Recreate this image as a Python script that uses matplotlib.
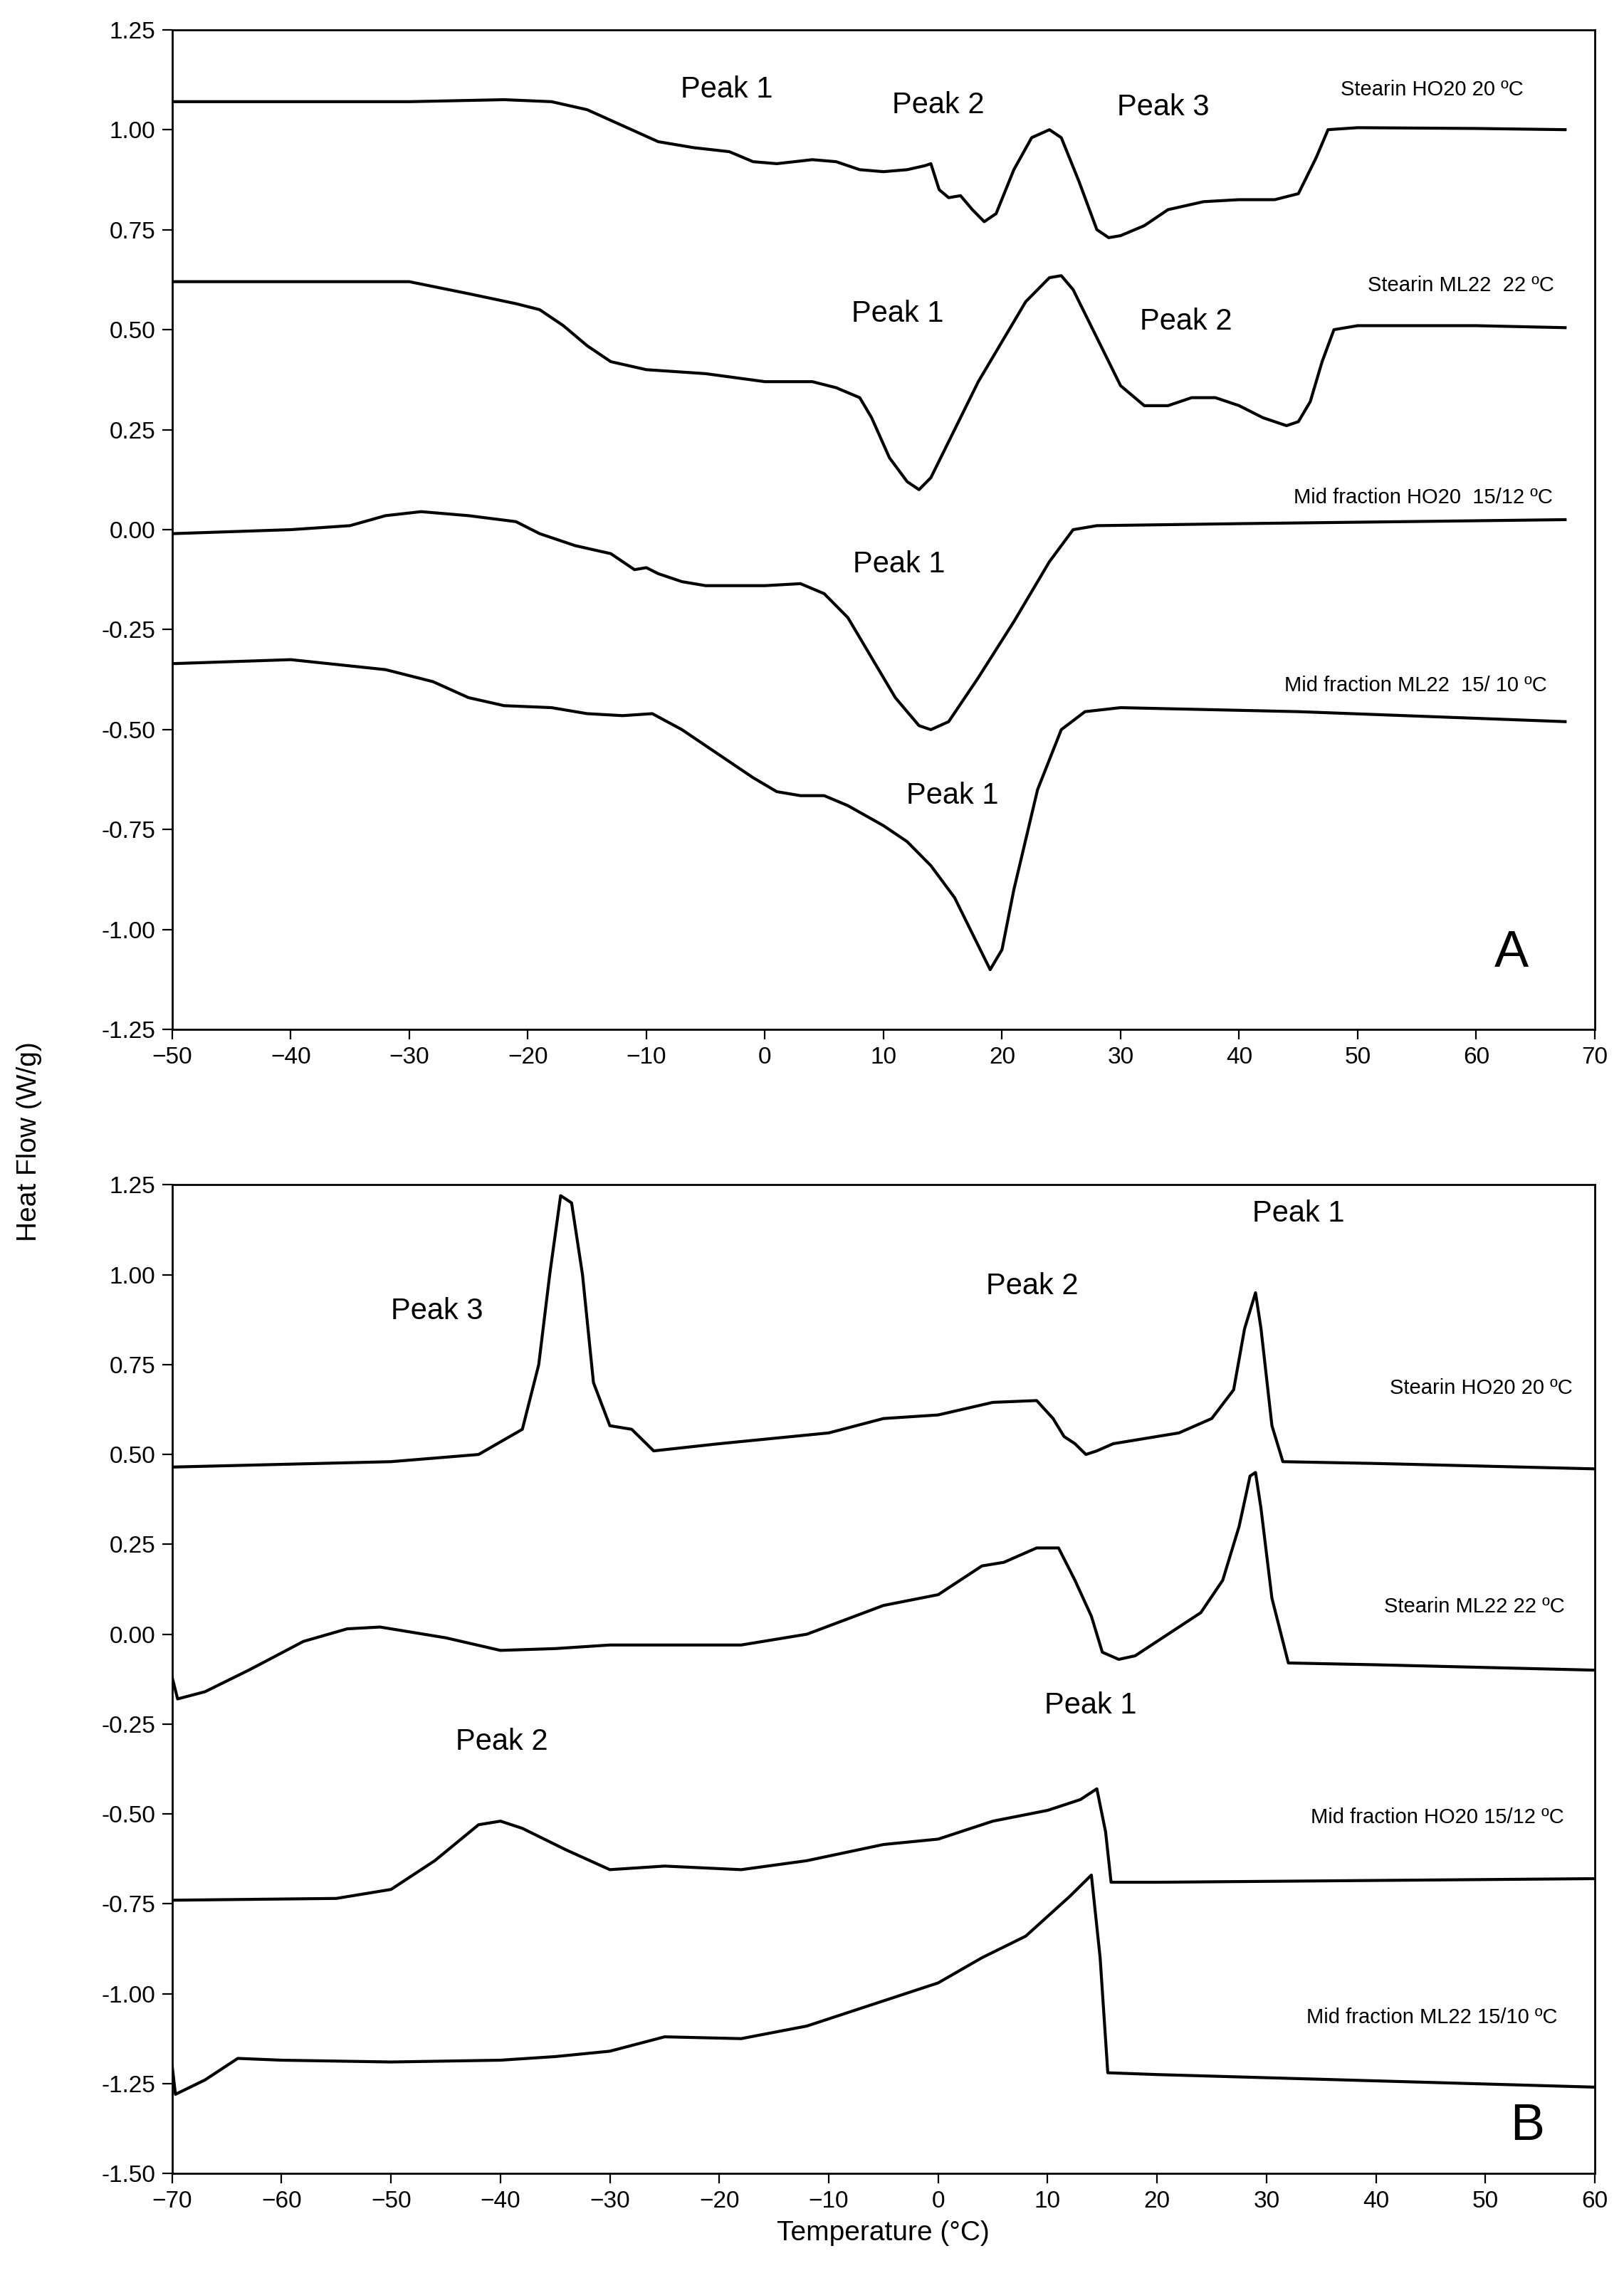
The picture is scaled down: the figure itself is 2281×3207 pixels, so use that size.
import matplotlib
matplotlib.use("Agg")
from matplotlib import pyplot as plt

plt.rcParams['font.family'] = ['Liberation Sans', 'DejaVu Sans']

# Panel A
a_st_ho_x = [-50, -30, -22, -18, -15, -12, -9, -6, -3, -1, 1, 4, 6, 8, 10, 12, 13.5, 14, 14.7, 15.5, 16.5, 17.5, 18.5, 19.5, 21, 22.5, 24, 25, 26.5, 28, 29, 30, 32, 34, 37, 40, 43, 45, 46.5, 47.5, 50, 60, 67.5]
a_st_ho_y = [1.07, 1.07, 1.075, 1.07, 1.05, 1.01, 0.97, 0.955, 0.945, 0.92, 0.915, 0.925, 0.92, 0.9, 0.895, 0.9, 0.91, 0.915, 0.85, 0.83, 0.835, 0.8, 0.77, 0.79, 0.9, 0.98, 1.0, 0.98, 0.87, 0.75, 0.73, 0.735, 0.76, 0.8, 0.82, 0.825, 0.825, 0.84, 0.93, 1.0, 1.005, 1.003, 1.0]
a_st_ml_x = [-50, -30, -25, -21, -19, -17, -15, -13, -10, -5, 0, 4, 6, 8, 9, 10.5, 12, 13, 14, 16, 18, 20, 22, 24, 25, 26, 28, 30, 32, 34, 36, 38, 40, 42, 44, 45, 46, 47, 48, 50, 60, 67.5]
a_st_ml_y = [0.62, 0.62, 0.59, 0.565, 0.55, 0.51, 0.46, 0.42, 0.4, 0.39, 0.37, 0.37, 0.355, 0.33, 0.28, 0.18, 0.12, 0.1, 0.13, 0.25, 0.37, 0.47, 0.57, 0.63, 0.635, 0.6, 0.48, 0.36, 0.31, 0.31, 0.33, 0.33, 0.31, 0.28, 0.26, 0.27, 0.32, 0.42, 0.5, 0.51, 0.51, 0.505]
a_mid_ho_x = [-50, -40, -35, -32, -29, -25, -21, -19, -16, -13, -11, -10, -9, -7, -5, 0, 3, 5, 7, 9, 11, 13, 14, 15.5, 18, 21, 24, 26, 28, 40, 67.5]
a_mid_ho_y = [-0.01, 0.0, 0.01, 0.035, 0.045, 0.035, 0.02, -0.01, -0.04, -0.06, -0.1, -0.095, -0.11, -0.13, -0.14, -0.14, -0.135, -0.16, -0.22, -0.32, -0.42, -0.49, -0.5, -0.48, -0.37, -0.23, -0.08, 0.0, 0.01, 0.015, 0.025]
a_mid_ml_x = [-50, -40, -32, -28, -25, -22, -18, -15, -12, -9.5, -7, -4, -1, 1, 3, 5, 7, 10, 12, 14, 16, 18, 19, 20, 21, 23, 25, 27, 30, 45, 67.5]
a_mid_ml_y = [-0.335, -0.325, -0.35, -0.38, -0.42, -0.44, -0.445, -0.46, -0.465, -0.46, -0.5, -0.56, -0.62, -0.655, -0.665, -0.665, -0.69, -0.74, -0.78, -0.84, -0.92, -1.04, -1.1, -1.05, -0.9, -0.65, -0.5, -0.455, -0.445, -0.455, -0.48]

# Panel B
b_st_ho_x = [-70, -50, -42, -38, -36.5, -35.5, -34.5, -33.5, -32.5, -31.5, -30, -28, -27, -26, -20, -10, -5, 0, 5, 9, 10.5, 11.5, 12.5, 13.5, 14.5, 16, 22, 25, 27, 28, 29, 29.5, 30.5, 31.5, 40, 60]
b_st_ho_y = [0.465, 0.48, 0.5, 0.57, 0.75, 1.0, 1.22, 1.2, 1.0, 0.7, 0.58, 0.57, 0.54, 0.51, 0.53, 0.56, 0.6, 0.61, 0.645, 0.65, 0.6, 0.55, 0.53, 0.5, 0.51, 0.53, 0.56, 0.6, 0.68, 0.85, 0.95, 0.85, 0.58, 0.48, 0.475, 0.46]
b_st_ml_x = [-70, -69.5, -67, -63, -58, -54, -51, -45, -40, -35, -30, -25, -18, -12, -5, 0, 4, 6, 9, 11, 12.5, 14, 15, 16.5, 18, 21, 24, 26, 27.5, 28.5, 29, 29.5, 30.5, 32, 40, 60]
b_st_ml_y = [-0.12, -0.18, -0.16, -0.1, -0.02, 0.015, 0.02, -0.01, -0.045, -0.04, -0.03, -0.03, -0.03, 0.0, 0.08, 0.11, 0.19, 0.2, 0.24, 0.24, 0.15, 0.05, -0.05, -0.07, -0.06, 0.0, 0.06, 0.15, 0.3, 0.44, 0.45, 0.35, 0.1, -0.08, -0.085, -0.1]
b_mid_ho_x = [-70, -55, -50, -46, -42, -40, -38, -34, -30, -25, -18, -12, -5, 0, 5, 10, 13, 14.5, 15.3, 15.8, 20, 60]
b_mid_ho_y = [-0.74, -0.735, -0.71, -0.63, -0.53, -0.52, -0.54, -0.6, -0.655, -0.645, -0.655, -0.63, -0.585, -0.57, -0.52, -0.49, -0.46, -0.43, -0.55, -0.69, -0.69, -0.68]
b_mid_ml_x = [-70, -69.7, -67, -64, -60, -50, -40, -35, -30, -25, -18, -12, -6, 0, 4, 8, 12, 14, 14.8, 15.5, 20, 60]
b_mid_ml_y = [-1.2, -1.28, -1.24, -1.18, -1.185, -1.19, -1.185, -1.175, -1.16, -1.12, -1.125, -1.09, -1.03, -0.97, -0.9, -0.84, -0.73, -0.67, -0.9, -1.22, -1.225, -1.26]

fig = plt.figure(figsize=(11.405, 16.035), dpi=200)
axA = fig.add_axes([0.106, 0.549, 0.876, 0.438])
axB = fig.add_axes([0.106, 0.048, 0.876, 0.433])

for x, y in [(a_st_ho_x, a_st_ho_y), (a_st_ml_x, a_st_ml_y), (a_mid_ho_x, a_mid_ho_y), (a_mid_ml_x, a_mid_ml_y)]:
    axA.plot(x, y, color='black', lw=1.5)
for x, y in [(b_st_ho_x, b_st_ho_y), (b_st_ml_x, b_st_ml_y), (b_mid_ho_x, b_mid_ho_y), (b_mid_ml_x, b_mid_ml_y)]:
    axB.plot(x, y, color='black', lw=1.5)

axA.set_xlim(-50, 70)
axA.set_ylim(-1.25, 1.25)
axA.set_xticks(range(-50, 71, 10))
axA.set_yticks([-1.25 + 0.25 * i for i in range(11)])
axB.set_xlim(-70, 60)
axB.set_ylim(-1.5, 1.25)
axB.set_xticks(range(-70, 61, 10))
axB.set_yticks([-1.5 + 0.25 * i for i in range(12)])

for ax in (axA, axB):
    ax.yaxis.set_major_formatter(matplotlib.ticker.FormatStrFormatter('%.2f'))
    ax.tick_params(labelsize=12, direction='out', length=5)
    for s in ax.spines.values():
        s.set_linewidth(1.0)

pk = dict(fontsize=15, ha='center', va='center')
sm = dict(fontsize=10.5, ha='center', va='center')
axA.text(-3.2, 1.1, 'Peak 1', **pk)
axA.text(14.6, 1.06, 'Peak 2', **pk)
axA.text(33.6, 1.055, 'Peak 3', **pk)
axA.text(11.2, 0.54, 'Peak 1', **pk)
axA.text(35.5, 0.52, 'Peak 2', **pk)
axA.text(11.3, -0.087, 'Peak 1', **pk)
axA.text(15.8, -0.665, 'Peak 1', **pk)
axA.text(56.3, 1.1, 'Stearin HO20 20 ºC', **sm)
axA.text(58.7, 0.61, 'Stearin ML22  22 ºC', **sm)
axA.text(55.5, 0.08, 'Mid fraction HO20  15/12 ºC', **sm)
axA.text(54.9, -0.39, 'Mid fraction ML22  15/ 10 ºC', **sm)
axA.text(63, -1.06, 'A', fontsize=26, ha='center', va='center')

axB.text(-45.8, 0.898, 'Peak 3', **pk)
axB.text(8.6, 0.967, 'Peak 2', **pk)
axB.text(32.9, 1.17, 'Peak 1', **pk)
axB.text(-39.9, -0.30, 'Peak 2', **pk)
axB.text(13.9, -0.198, 'Peak 1', **pk)
axB.text(49.6, 0.684, 'Stearin HO20 20 ºC', **sm)
axB.text(49.0, 0.077, 'Stearin ML22 22 ºC', **sm)
axB.text(45.6, -0.51, 'Mid fraction HO20 15/12 ºC', **sm)
axB.text(45.1, -1.067, 'Mid fraction ML22 15/10 ºC', **sm)
axB.text(53.8, -1.37, 'B', fontsize=26, ha='center', va='center')

axB.set_xlabel('Temperature (°C)', fontsize=14)
fig.text(0.018, 0.5, 'Heat Flow (W/g)', rotation=90, fontsize=14, ha='center', va='center')

fig.savefig('out.png', dpi=200)
